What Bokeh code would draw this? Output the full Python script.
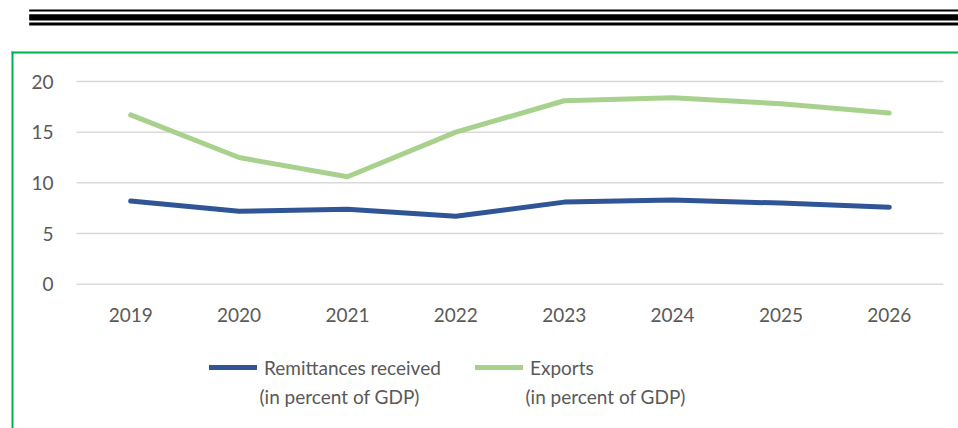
from bokeh.plotting import figure
from bokeh.models import Range1d, Legend, LegendItem, FixedTicker, Label
from bokeh.embed import file_html
from bokeh.resources import INLINE

years = ["2019", "2020", "2021", "2022", "2023", "2024", "2025", "2026"]
remittances = [8.2, 7.2, 7.4, 6.7, 8.1, 8.3, 8.0, 7.6]
exports = [16.7, 12.5, 10.6, 15.0, 18.1, 18.4, 17.8, 16.9]
series_names = ["Remittances received", "Exports"]
series_unit = "(in percent of GDP)"
y_ticks = [0, 5, 10, 15, 20]

FONT = "Lato"
GREY = "#595959"
BLUE = "#2F5597"
GREEN = "#A9D18E"
FRAME_GREEN = "#00B050"

W, H = 958, 428
xs = list(range(len(years)))

# plot-area geometry (pixels) -> data ranges
px_left, px_right = 76.0, 943.0
step = (px_right - px_left) / len(years)
x0_px = px_left + step / 2
y20_px, y0_px = 81.0, 283.7
ppu = (y0_px - y20_px) / 20.0

p = figure(width=W, height=H, output_backend="svg", toolbar_location=None,
           x_range=Range1d(-x0_px / step, (W - x0_px) / step),
           y_range=Range1d(-(H - y0_px) / ppu, 20 + y20_px / ppu),
           min_border=0)
p.outline_line_color = None
p.background_fill_color = None
p.border_fill_color = "white"
p.grid.visible = False

# pixel-space helper ranges for the page decoration
p.extra_x_ranges = {"px": Range1d(0, W)}
p.extra_y_ranges = {"px": Range1d(H, 0)}

p.quad(left=[28.7, 28.7, 28.7], right=[W, W, W], top=[9, 13.7, 22], bottom=[11, 20, 25],
       fill_color="black", line_color=None, x_range_name="px", y_range_name="px")
p.quad(left=[11, 11], right=[W, 13], top=[51, 51], bottom=[53, H],
       fill_color=FRAME_GREEN, line_color=None, x_range_name="px", y_range_name="px")

# horizontal gridlines spanning the category band
p.segment(x0=[-0.5] * len(y_ticks), x1=[len(years) - 0.5] * len(y_ticks), y0=y_ticks, y1=y_ticks,
          line_color="#D9D9D9", line_width=1.5)

r1 = p.line(xs, remittances, line_color=BLUE, line_width=5, line_cap="round", line_join="round")
r2 = p.line(xs, exports, line_color=GREEN, line_width=5, line_cap="round", line_join="round")

p.xaxis.ticker = FixedTicker(ticks=xs)
p.xaxis.major_label_overrides = {i: y for i, y in zip(xs, years)}
p.xaxis.fixed_location = 0
p.yaxis.ticker = FixedTicker(ticks=y_ticks)
p.yaxis.fixed_location = -0.5

for ax in (p.xaxis, p.yaxis):
    ax.axis_line_color = None
    ax.major_tick_line_color = None
    ax.minor_tick_line_color = None
    ax.major_tick_out = 0
    ax.major_tick_in = 0
    ax.major_label_text_font = FONT
    ax.major_label_text_font_size = "19px"
    ax.major_label_text_color = GREY
p.yaxis.major_label_standoff = 23
p.xaxis.major_label_standoff = 24

legend = Legend(items=[LegendItem(label=series_names[0], renderers=[r1]),
                       LegendItem(label=series_names[1], renderers=[r2])],
                orientation="horizontal", location=(209, 49.5),
                glyph_width=48, glyph_height=20, label_standoff=7, label_width=200,
                spacing=11, padding=0, margin=0,
                border_line_color=None, background_fill_alpha=0,
                label_text_font=FONT, label_text_font_size="19px", label_text_color=GREY)
p.add_layout(legend, "center")

# second line of each legend entry
for lx in (259, 525):
    p.add_layout(Label(x=lx, y=H - 396, x_units="screen", y_units="screen", text=series_unit,
                       text_font=FONT, text_font_size="19px", text_color=GREY,
                       text_baseline="middle", text_align="left"))

open("out.html", "w").write(file_html(p, INLINE))
